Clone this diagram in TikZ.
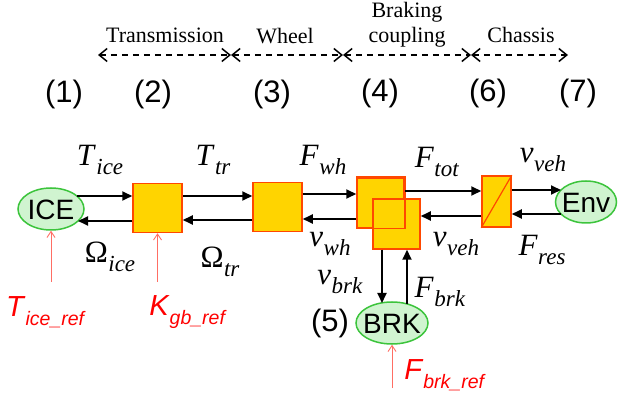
\documentclass[tikz,border=0pt]{standalone}
\usepackage{fontspec}
\setmainfont{Liberation Serif}
\setsansfont{Liberation Sans}
\usetikzlibrary{arrows.meta,shapes.geometric,calc}
\definecolor{boxfill}{RGB}{255,212,0}
\definecolor{boxline}{RGB}{255,72,0}
\definecolor{ellfill}{RGB}{208,244,208}
\definecolor{ellline}{RGB}{60,196,60}
\definecolor{refred}{RGB}{255,0,0}
\definecolor{refarrow}{RGB}{255,110,100}
\newcommand{\vlab}[2]{\fontsize{31}{31}\selectfont\textit{#1}\kern0.5pt\raisebox{-0.3em}{\fontsize{23}{23}\selectfont\textit{#2}}}
\newcommand{\olab}[2]{\fontsize{31}{31}\selectfont Ω\kern0.5pt\raisebox{-0.3em}{\fontsize{23}{23}\selectfont\textit{#2}}}
\newcommand{\rlab}[2]{\sffamily\fontsize{29}{29}\selectfont\textit{#1}\raisebox{-0.3em}{\fontsize{19.5}{19.5}\selectfont\textit{#2}}}
\newcommand{\elltext}[1]{\makebox[0pt]{\raisebox{-0.36em}[0pt][0pt]{#1}}}
\begin{document}
\begin{tikzpicture}[x=1pt,y=-1pt,
  blk/.style={draw=boxline, fill=boxfill, line width=1.5pt, minimum width=49pt, minimum height=49pt, inner sep=0pt},
  ell/.style={ellipse, draw=ellline, fill=ellfill, line width=1.5pt, inner sep=0pt, font=\sffamily\fontsize{28}{28}\selectfont},
  flow/.style={-{Triangle[length=10pt,width=9pt]}, line width=1.8pt},
  refar/.style={-{Straight Barb[length=6pt,width=8pt]}, draw=refarrow, line width=0.9pt},
  spanar/.style={{Straight Barb[length=8pt,width=13pt,line width=1.5pt]}-{Straight Barb[length=8pt,width=13pt,line width=1.5pt]}, line width=1.3pt, dash pattern=on 6.5pt off 4.5pt},
  toplab/.style={font=\fontsize{22}{22}\selectfont, inner sep=0pt, anchor=base},
  num/.style={font=\sffamily\fontsize{31}{31}\selectfont, inner sep=0pt},
  lab/.style={inner sep=0pt},
  rlab/.style={inner sep=0pt, text=refred}]
\useasboundingbox (0,0) rectangle (621,403);

% top spans
\coordinate (d0) at (98,55);
\coordinate (d1) at (231,55);
\coordinate (d2) at (343,55);
\coordinate (d3) at (471,55);
\coordinate (d4) at (568,55);
\draw[spanar] (d0) -- (d1);
\draw[spanar] (d1) -- (d2);
\draw[spanar] (d2) -- (d3);
\draw[spanar] (d3) -- (d4);
\node[toplab] (ttr) at (165,43) {Transmission};
\node[toplab] (twh) at (285,44) {Wheel};
\node[toplab] (tbr) at (407,18) {Braking};
\node[toplab] (tco) at (407,43) {coupling};
\node[toplab] (tch) at (521,43) {Chassis};

% numbers
\node[num] (n1) at (64,94) {(1)};
\node[num] (n2) at (153,94) {(2)};
\node[num] (n3) at (272,94) {(3)};
\node[num] (n4) at (380,93) {(4)};
\node[num] (n6) at (488,93) {(6)};
\node[num] (n7) at (578,93) {(7)};

% blocks
\node[ell, minimum width=66pt, minimum height=42pt] (ice) at (51,209) {\elltext{ICE}};
\node[blk] (gb) at (157.5,208) {};
\node[blk] (wh) at (277.5,207) {};
\node[blk, minimum width=47pt, minimum height=50pt] (ca) at (380.5,203) {};
\node[blk, minimum width=47pt, minimum height=50pt] (cb) at (396.5,224) {};
\draw[draw=boxline, line width=1.5pt] (ca.south west) rectangle (ca.north east);
\node[blk, minimum width=29pt, minimum height=51pt] (ch) at (496.5,201.5) {};
\draw[draw=boxline, line width=1.2pt] (ch.south west) -- (ch.north east);
\node[ell, minimum width=61pt, minimum height=42pt] (env) at (586,202) {\elltext{Env}};
\node[ell, minimum width=72pt, minimum height=42pt] (brk) at (392,323) {\elltext{BRK}};
\node[num] (n5) at (330,323) {(5)};

% contact points on the ellipses
\coordinate (iceT) at ($(ice.center)+(26,-13)$);
\coordinate (iceB) at ($(ice.center)+(27,12)$);
\coordinate (envT) at ($(env.center)+(-25,-12)$);
\coordinate (envB) at ($(env.center)+(-25,12)$);
\coordinate (brkL) at ($(brk.center)+(-10,-20)$);
\coordinate (brkR) at ($(brk.center)+(15,-19)$);

% flows
\draw[flow] (iceT) -- (iceT -| gb.west);
\draw[flow] (iceB -| gb.west) -- (iceB);
\draw[flow] (gb.east |- 0,196) -- (wh.west |- 0,196);
\draw[flow] (wh.west |- 0,220) -- (gb.east |- 0,220);
\draw[flow] (wh.east |- 0,194) -- (ca.west |- 0,194);
\draw[flow] (ca.west |- 0,219) -- (wh.east |- 0,219);
\draw[flow] (ca.east |- 0,191) -- (ch.west |- 0,191);
\draw[flow] (ch.west |- 0,216) -- (cb.east |- 0,216);
\draw[flow] (envT -| ch.east) -- (envT);
\draw[flow] (envB) -- (envB -| ch.east);
\draw[flow] (brkL |- cb.south) -- (brkL);
\draw[flow] (brkR) -- (brkR |- cb.south);

% references
\coordinate (r1) at (51,282);
\coordinate (r2) at (157.5,282);
\coordinate (r3) at (392,388);
\draw[refar] (r1) -- (ice.south);
\draw[refar] (r2) -- (gb.south);
\draw[refar] (r3) -- (brk.south);
\node[rlab] (l1) at (46,312) {\rlab{T}{ice\_ref}};
\node[rlab] (l2) at (188,312) {\rlab{K}{gb\_ref}};
\node[rlab] (l3) at (445,375) {\rlab{F}{brk\_ref}};

% labels
\node[lab] (a1) at (100,160) {\vlab{T}{ice}};
\node[lab] (a2) at (213,160) {\vlab{T}{tr}};
\node[lab] (a3) at (323,160) {\vlab{F}{wh}};
\node[lab] (a4) at (437,162) {\vlab{F}{tot}};
\node[lab] (a5) at (543,160) {\vlab{v}{veh}};
\node[lab] (b1) at (110,257) {\olab{}{ice}};
\node[lab] (b2) at (220,262) {\olab{}{tr}};
\node[lab] (b3) at (330,244) {\vlab{v}{wh}};
\node[lab] (b4) at (456,244) {\vlab{v}{veh}};
\node[lab] (b5) at (542,250) {\vlab{F}{res}};
\node[lab] (c1) at (340,282) {\vlab{v}{brk}};
\node[lab] (c2) at (440,292) {\vlab{F}{brk}};
\end{tikzpicture}
\end{document}
